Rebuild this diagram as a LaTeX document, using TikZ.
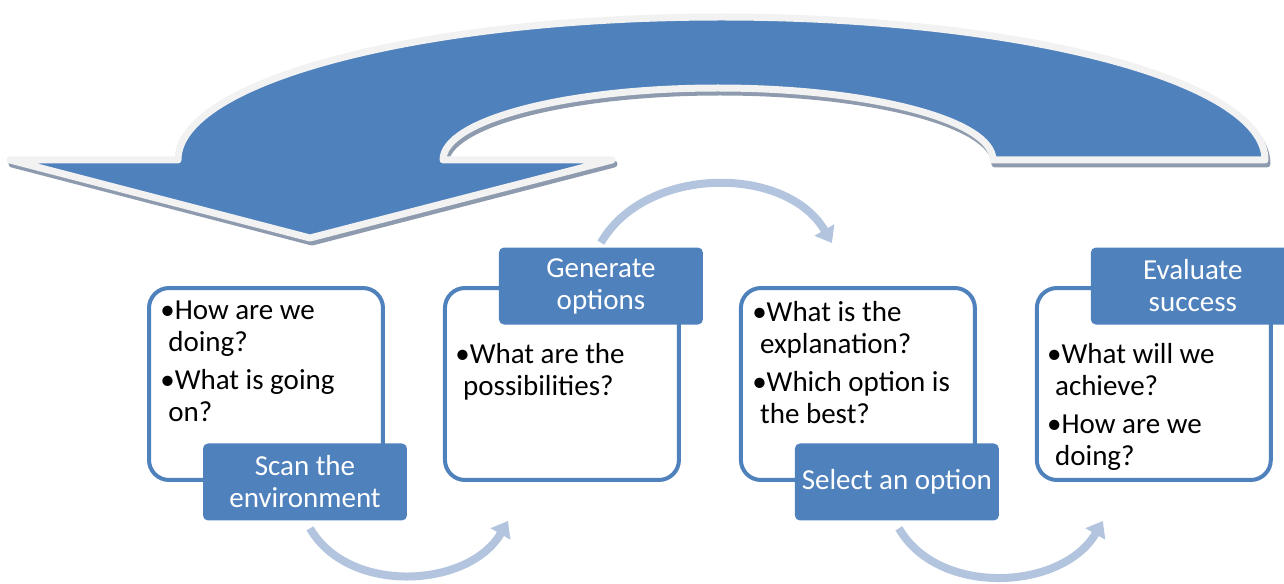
\documentclass[tikz,border=0pt]{standalone}
\usepackage{fontspec}
\setmainfont{Carlito}
\usetikzlibrary{positioning, arrows.meta}

\definecolor{cycleblue}{RGB}{79,129,189}
\definecolor{cyclelight}{RGB}{179,196,222}
\definecolor{rimgray}{RGB}{242,242,242}
\definecolor{shadegray}{RGB}{142,154,174}

\newcommand{\cyclefont}{\fontsize{16.5}{18.2}\selectfont}
\newcommand{\hang}{\hspace*{4.5pt}}
% the big loop arrow, in pixel units
\newcommand{\bigloop}{(178,-160) arc[start angle=180, end angle=0, x radius=543.5, y radius=143]
  -- (993,-160) arc[start angle=0, end angle=180, x radius=275, y radius=72]
  -- (612,-160) -- (310,-238) -- (10,-160) -- cycle}

\tikzset{
  cardbox/.style={draw=cycleblue, line width=0.08cm, rounded corners=0.4cm, fill=white,
    minimum width=4.68cm, minimum height=3.84cm},
  steplabel/.style={fill=cycleblue, rounded corners=0.1cm, minimum width=4.08cm,
    minimum height=1.54cm, text=white, align=center, font=\cyclefont, inner sep=0pt},
  cardtext/.style={anchor=north west, align=left, inner sep=0pt, font=\cyclefont},
  cyclearrow/.style={draw=cyclelight, line width=0.16cm, -{Triangle[length=0.3cm, width=0.44cm]}}
}

\begin{document}
\begin{tikzpicture}[x=0.02cm, y=0.02cm]
	\useasboundingbox (0,0) rectangle (1284,-584);
	%
	%big arrow
	\filldraw[shadegray, line width=0.14cm, line join=round, shift={(2,-4)}] \bigloop;
	\filldraw[fill=cycleblue, draw=rimgray, line width=0.14cm, line join=round] \bigloop;
	%
	%boxes
	\node[cardbox] (scanbox) at (266,-384) {};
	\node[cardbox, right=1.16cm of scanbox] (optbox) {};
	\node[cardbox, right=1.16cm of optbox] (pickbox) {};
	\node[cardbox, right=1.16cm of pickbox] (evalbox) {};
	%
	%texts
	\node[cardtext] (scantext) at ([xshift=0.26cm, yshift=-0.3cm]scanbox.north west)
		{\textbullet How are we\\\hang doing?\\[3.4pt]\textbullet What is going\\\hang on?};
	\node[cardtext] (opttext) at ([xshift=0.24cm, yshift=-1.14cm]optbox.north west)
		{\textbullet What are the\\\hang possibilities?};
	\node[cardtext] (picktext) at ([xshift=0.26cm, yshift=-0.3cm]pickbox.north west)
		{\textbullet What is the\\\hang explanation?\\[3.4pt]\textbullet Which option is\\\hang the best?};
	\node[cardtext] (evaltext) at ([xshift=0.24cm, yshift=-1.14cm]evalbox.north west)
		{\textbullet What will we\\\hang achieve?\\[3.4pt]\textbullet How are we\\\hang doing?};
	%
	%labels
	\node[steplabel] (scan) at ([xshift=0.78cm]scanbox.south) {Scan the\\environment};
	\node[steplabel] (generate) at ([xshift=0.78cm]optbox.north) {Generate\\options};
	\node[steplabel] (select) at ([xshift=0.78cm]pickbox.south) {Select an option};
	\node[steplabel] (evaluate) at ([xshift=0.78cm]evalbox.north) {Evaluate\\success};
	%
	%small arrows
	\draw[cyclearrow] ([xshift=0.1cm, yshift=-0.15cm]scan.south) to[out=-60, in=-120]
		([xshift=1.3cm, yshift=-0.78cm]optbox.south west);
	\draw[cyclearrow] ([yshift=0.09cm]generate.north) to[out=60, in=120]
		([xshift=1.86cm, yshift=0.86cm]pickbox.north west);
	\draw[cyclearrow] ([xshift=0.04cm, yshift=-0.15cm]select.south) to[out=-60, in=-120]
		([xshift=1.36cm, yshift=-0.78cm]evalbox.south west);
\end{tikzpicture}
\end{document}
